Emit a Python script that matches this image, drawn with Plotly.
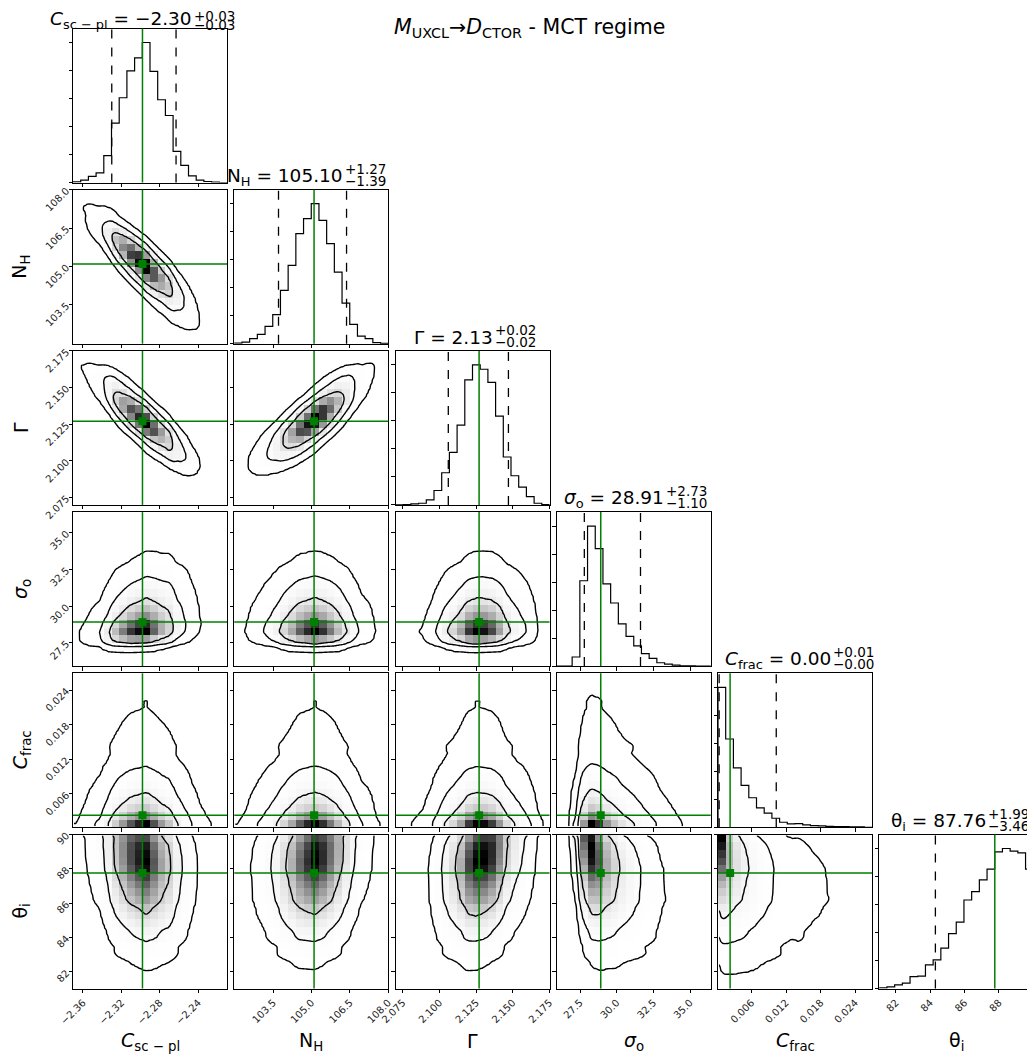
import math
import numpy as np
import plotly.graph_objects as go

# ---------------- data ----------------
param_labels = ["<i>C</i><sub>sc − pl</sub>", "N<sub>H</sub>", "Γ",
                "<i>σ</i><sub>o</sub>", "<i>C</i><sub>frac</sub>", "θ<sub>i</sub>"]
axis_ranges = [[-2.3704, -2.2099], [101.98, 108.0], [2.0700, 2.1750],
               [25.91, 36.41], [0.0002, 0.0269], [81.03, 90.0]]

hist_C = [2, 7, 18, 29, 80, 177, 253, 333, 372, 418, 332, 247, 200, 93, 51, 20, 7, 3, 1, 0]
hist_NH = [2, 5, 15, 28, 52, 87, 160, 235, 330, 375, 420, 370, 300, 215, 122, 58, 23, 15, 3, 1]
hist_G = [0, 1, 3, 5, 15, 43, 96, 157, 238, 373, 418, 405, 366, 265, 143, 87, 53, 25, 5, 1]
hist_S = [0, 0, 27, 253, 415, 348, 244, 187, 125, 88, 60, 37, 23, 10, 6, 3, 1, 1, 0, 0]
hist_F = [417, 263, 177, 125, 88, 58, 42, 27, 15, 10, 11, 7, 5, 4, 3, 2, 2, 1, 1, 0]
hist_T = [2, 5, 11, 16, 35, 37, 70, 85, 120, 163, 197, 263, 288, 323, 355, 406, 416, 408, 403, 355]
hists = [hist_C, hist_NH, hist_G, hist_S, hist_F, hist_T]

medians = [-2.298, 105.10, 2.127, 28.91, 0.0023, 87.76]
q_low = [-2.330, 103.71, 2.106, 27.79, 0.0004, 84.30]
q_high = [-2.263, 106.37, 2.147, 31.62, 0.0103, 89.75]

title_value = ["−2.30", "105.10", "2.13", "28.91", "0.00", "87.76"]
title_plus = ["+0.03", "+1.27", "+0.02", "+2.73", "+0.01", "+1.99"]
title_minus = ["−0.03", "−1.39", "−0.02", "−1.10", "−0.00", "−3.46"]

tick_vals = [[-2.36, -2.32, -2.28, -2.24], [103.5, 105.0, 106.5, 108.0],
             [2.075, 2.100, 2.125, 2.150, 2.175], [27.5, 30.0, 32.5, 35.0],
             [0.006, 0.012, 0.018, 0.024], [82, 84, 86, 88, 90]]
tick_text = [["−2.36", "−2.32", "−2.28", "−2.24"], ["103.5", "105.0", "106.5", "108.0"],
             ["2.075", "2.100", "2.125", "2.150", "2.175"], ["27.5", "30.0", "32.5", "35.0"],
             ["0.006", "0.012", "0.018", "0.024"], ["82", "84", "86", "88", "90"]]

# correlation between parameters, estimated from the 2-D panels
rho = [[1.00, -0.85, -0.85, 0.20, 0.00, -0.10],
       [-0.85, 1.00, 0.80, 0.00, 0.00, 0.10],
       [-0.85, 0.80, 1.00, 0.05, 0.00, 0.15],
       [0.20, 0.00, 0.05, 1.00, 0.00, -0.25],
       [0.00, 0.00, 0.00, 0.00, 1.00, -0.25],
       [-0.10, 0.10, 0.15, -0.25, -0.25, 1.00]]
contour_mass = [0.65, 0.88, 0.98]

title_text = "<i>M</i><sub>UXCL</sub>→<i>D</i><sub>CTOR</sub> - MCT regime"

# ---------------- layout geometry (window pixels) ----------------
WIN_W, WIN_H = 1035, 1061
OFF = 8                      # page body margin
W, H = WIN_W - OFF, WIN_H - OFF
NP = 6
col_left = [73 + 161.25 * i for i in range(NP)]
row_top = [28.5 + 161.2 * i for i in range(NP)]
PS = 154.0
title_offsets = [43, 33, 21, 31, 37, 30.5]
GREEN = "#008000"
FONT = "DejaVu Sans"

NB = 20
SUB = 4
NF = NB * SUB

# inverse normal via table
_zs = np.linspace(-5.5, 5.5, 4001)
_Phi = np.array([0.5 * (1 + math.erf(v / math.sqrt(2))) for v in _zs])


def norm_ppf(u):
    return np.interp(np.clip(u, _Phi[0], _Phi[-1]), _Phi, _zs)


def marginal(k, grid):
    lo, hi = axis_ranges[k]
    edges = np.linspace(lo, hi, NB + 1)
    centers = 0.5 * (edges[:-1] + edges[1:])
    h = np.array(hists[k], float)
    fine = np.linspace(lo, hi, 4001)
    pdf_f = np.interp(fine, centers, h) + 2e-3 * h.max()
    cdf = np.concatenate([[0], np.cumsum(0.5 * (pdf_f[1:] + pdf_f[:-1]))])
    cdf /= cdf[-1]
    return np.interp(grid, fine, pdf_f), np.interp(grid, fine, cdf)


def fine_grid(k):
    lo, hi = axis_ranges[k]
    return lo + (np.arange(NF) + 0.5) * (hi - lo) / NF


def bin_centers(k):
    lo, hi = axis_ranges[k]
    e = np.linspace(lo, hi, NB + 1)
    return 0.5 * (e[:-1] + e[1:])


def px2x(px):
    return (px - OFF) / W


def py2y(py):
    return 1 - (py - OFF) / H


fig = go.Figure()
layout = dict(width=W, height=H, margin=dict(l=0, r=0, t=0, b=0, pad=0, autoexpand=False),
              template="none",
              plot_bgcolor="white", paper_bgcolor="white", showlegend=False,
              font=dict(family=FONT, color="black"))
shapes = []
annotations = []

k = 0
for r in range(NP):
    for c in range(r + 1):
        k += 1
        sfx = "" if k == 1 else str(k)
        xa, ya = "x" + sfx, "y" + sfx
        x0p = col_left[c]
        y0p = row_top[r]
        axis_common = dict(ticks="outside", ticklen=3.5, tickwidth=1, tickcolor="black",
                           showline=True, mirror=True, linecolor="black", linewidth=1,
                           showgrid=False, zeroline=False, automargin=False,
                           tickfont=dict(size=10, color="#222", family=FONT))
        layout["xaxis" + sfx] = dict(domain=[px2x(x0p), px2x(x0p + PS)], anchor=ya,
                                     range=axis_ranges[c], tickmode="array",
                                     tickvals=tick_vals[c], ticktext=tick_text[c],
                                     showticklabels=(r == NP - 1), tickangle=-45,
                                     **axis_common)
        if r == c:
            h = np.array(hists[c], float)
            ymax = 1.1 * h.max()
            layout["yaxis" + sfx] = dict(domain=[py2y(y0p + PS), py2y(y0p)], anchor=xa,
                                         range=[0, ymax], tickmode="linear", tick0=0,
                                         dtick=ymax / 5.5, showticklabels=False,
                                         **axis_common)
            lo, hi = axis_ranges[c]
            edges = np.linspace(lo, hi, NB + 1)
            xs = [edges[0]] + list(edges[:-1]) + [edges[-1], edges[-1]]
            ys = [0] + list(h) + [h[-1], 0]
            fig.add_trace(go.Scatter(x=xs, y=ys, mode="lines", line=dict(color="black", width=1.2, shape="hv"),
                                     xaxis=xa, yaxis=ya, hoverinfo="skip"))
            for q in (q_low[c], q_high[c]):
                shapes.append(dict(type="line", xref=xa, yref=ya + " domain", x0=q, x1=q, y0=0, y1=1,
                                   line=dict(color="black", width=1.3, dash="dash")))
            shapes.append(dict(type="line", xref=xa, yref=ya + " domain", x0=medians[c], x1=medians[c],
                               y0=0, y1=1, line=dict(color=GREEN, width=1.5)))
            # title
            xc = x0p + PS / 2 + title_offsets[c]
            if r == 0:
                ym, ysup, ysub = 19.5, 15.5, 25.0
            else:
                ym, ysup, ysub = y0p - 13, y0p - 21, y0p - 9
            annotations.append(dict(text=f"{param_labels[c]} = {title_value[c]}", x=px2x(xc), y=py2y(ym),
                                    xref="paper", yref="paper", xanchor="right", yanchor="middle",
                                    showarrow=False, borderpad=0,
                                    font=dict(size=18.5, family=FONT, color="black")))
            annotations.append(dict(text=title_plus[c], x=px2x(xc), y=py2y(ysup),
                                    xref="paper", yref="paper", xanchor="left", yanchor="middle",
                                    showarrow=False, borderpad=0,
                                    font=dict(size=13.5, family=FONT, color="black")))
            annotations.append(dict(text=title_minus[c], x=px2x(xc), y=py2y(ysub),
                                    xref="paper", yref="paper", xanchor="left", yanchor="middle",
                                    showarrow=False, borderpad=0,
                                    font=dict(size=13.5, family=FONT, color="black")))
        else:
            layout["yaxis" + sfx] = dict(domain=[py2y(y0p + PS), py2y(y0p)], anchor=xa,
                                         range=axis_ranges[r], tickmode="array",
                                         tickvals=tick_vals[r], ticktext=tick_text[r],
                                         showticklabels=(c == 0), tickangle=-45,
                                         **axis_common)
            gx = fine_grid(c)
            gy = fine_grid(r)
            fx, ux = marginal(c, gx)
            fy, uy = marginal(r, gy)
            a = norm_ppf(ux)[None, :]
            b = norm_ppf(uy)[:, None]
            p_ = rho[r][c]
            cop = np.exp(-(p_ ** 2 * (a ** 2 + b ** 2) - 2 * p_ * a * b) / (2 * (1 - p_ ** 2))) / math.sqrt(1 - p_ ** 2)
            dens = fy[:, None] * fx[None, :] * cop
            # 20x20 shaded bins (black->transparent colormap composited on white)
            coarse = dens.reshape(NB, SUB, NB, SUB).mean(axis=(1, 3))
            shade = (coarse / coarse.max()) ** 2
            fig.add_trace(go.Heatmap(x=bin_centers(c), y=bin_centers(r), z=shade, zmin=0, zmax=1,
                                     colorscale=[[0, "white"], [1, "black"]], showscale=False,
                                     xaxis=xa, yaxis=ya, hoverinfo="skip"))
            flat = dens.ravel()
            order = np.argsort(flat)[::-1]
            cs = np.cumsum(flat[order]) / flat.sum()
            mass = np.empty_like(cs)
            mass[order] = cs
            mass = mass.reshape(dens.shape)
            zidx = np.interp(mass, [0] + contour_mass + [1.0], [0, 1, 2, 3, 4])
            fig.add_trace(go.Contour(x=gx, y=gy, z=zidx,
                                     contours=dict(start=1, end=3, size=1, coloring="lines"),
                                     colorscale=[[0, "black"], [1, "black"]], showscale=False,
                                     line=dict(width=1.4, smoothing=0.6), xaxis=xa, yaxis=ya, hoverinfo="skip"))
            shapes.append(dict(type="line", xref=xa, yref=ya + " domain", x0=medians[c], x1=medians[c],
                               y0=0, y1=1, line=dict(color=GREEN, width=1.5)))
            shapes.append(dict(type="line", xref=xa + " domain", yref=ya, x0=0, x1=1, y0=medians[r],
                               y1=medians[r], line=dict(color=GREEN, width=1.5)))
            fig.add_trace(go.Scatter(x=[medians[c]], y=[medians[r]], mode="markers",
                                     marker=dict(symbol="square", size=8, color=GREEN),
                                     xaxis=xa, yaxis=ya, hoverinfo="skip"))

# axis labels
for i in range(NP):
    annotations.append(dict(text=param_labels[i], x=px2x(col_left[i] + PS / 2), y=py2y(1041),
                            xref="paper", yref="paper", xanchor="center", yanchor="middle",
                            showarrow=False, font=dict(size=19, family=FONT, color="black")))
for i in range(1, NP):
    annotations.append(dict(text=param_labels[i], x=px2x(21), y=py2y(row_top[i] + PS / 2),
                            xref="paper", yref="paper", xanchor="center", yanchor="middle",
                            textangle=-90, showarrow=False, borderpad=0,
                            font=dict(size=19, family=FONT, color="black")))
# main title
annotations.append(dict(text=title_text, x=px2x(529), y=py2y(28), xref="paper", yref="paper",
                        xanchor="center", yanchor="middle", showarrow=False,
                        font=dict(size=20.5, family=FONT, color="black")))

layout["shapes"] = shapes
layout["annotations"] = annotations
fig.update_layout(**layout)
fig.write_html("out.html")
